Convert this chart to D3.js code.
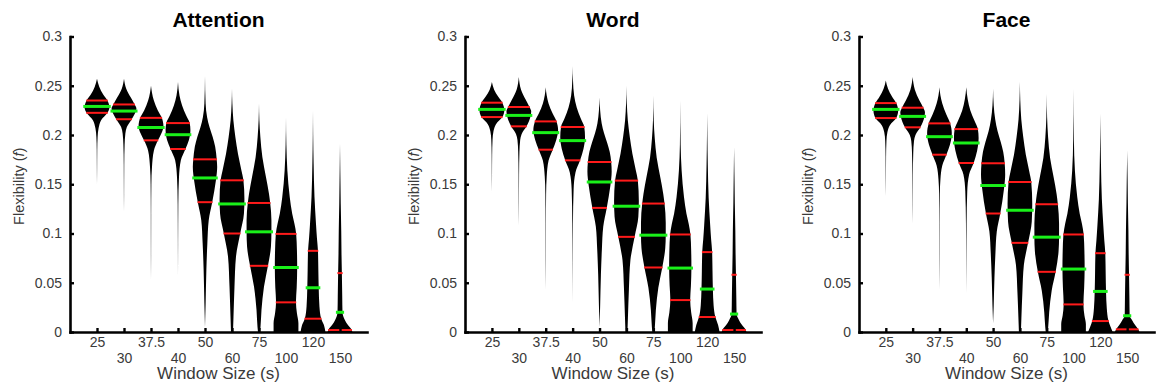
<!DOCTYPE html>
<html>
<head>
<meta charset="utf-8">
<script src="https://cdn.jsdelivr.net/npm/d3@7"></script>
<style>
  html, body { margin: 0; padding: 0; background: #fff; }
  svg { display: block; font-family: "Liberation Sans", Arial, Helvetica, sans-serif; }
</style>
</head>
<body>
<script>
// ---------------- DATA ----------------
const windowSizes = ["25", "30", "37.5", "40", "50", "60", "75", "100", "120", "150"];
const yTickValues = [0, 0.05, 0.1, 0.15, 0.2, 0.25, 0.3];
const panelTitles = ["Attention", "Word", "Face"];

// medians (green) and quartiles (red) of flexibility per window size
const attentionMedian = [0.229, 0.2243, 0.2076, 0.2003, 0.1564, 0.130, 0.1017, 0.0655, 0.0449, 0.020];
const attentionQ1     = [0.2225, 0.216, 0.1946, 0.1858, 0.1318, 0.100, 0.0672, 0.0301, 0.0135, 0.002];
const attentionQ3     = [0.235, 0.231, 0.2174, 0.2121, 0.1753, 0.154, 0.131, 0.0996, 0.0824, 0.0598];

const wordMedian = [0.226, 0.2199, 0.2024, 0.1943, 0.1523, 0.1277, 0.0983, 0.0649, 0.0436, 0.0182];
const wordQ1     = [0.2182, 0.2088, 0.1851, 0.1743, 0.126, 0.0966, 0.0655, 0.0324, 0.0152, 0.002];
const wordQ3     = [0.2328, 0.2284, 0.2138, 0.2081, 0.1726, 0.1537, 0.1304, 0.099, 0.0811, 0.0581];

const faceMedian = [0.226, 0.2189, 0.1983, 0.1919, 0.1487, 0.1236, 0.0963, 0.0639, 0.0412, 0.0165];
const faceQ1     = [0.2172, 0.2078, 0.180, 0.1716, 0.1203, 0.0905, 0.0611, 0.028, 0.0111, 0.0027];
const faceQ3     = [0.2324, 0.2277, 0.2118, 0.206, 0.1713, 0.1523, 0.1297, 0.099, 0.080, 0.0581];

// violin density profiles: [flexibility, relative density (max = 1)]
const attentionDensity = [
  [[.150,0],[.165,.01],[.185,.02],[.198,.05],[.207,.13],[.215,.33],[.2225,.84],[.228,1],[.235,.84],[.241,.5],[.249,.18],[.257,0]],
  [[.122,0],[.14,.01],[.17,.02],[.19,.05],[.2016,.11],[.208,.23],[.216,.62],[.2243,.96],[.227,1],[.231,.86],[.238,.55],[.247,.18],[.257,0]],
  [[.053,0],[.08,.01],[.12,.015],[.15,.03],[.1675,.08],[.184,.23],[.1946,.56],[.202,.85],[.209,1],[.2174,.87],[.225,.55],[.235,.23],[.243,.08],[.25,0]],
  [[.056,0],[.09,.01],[.13,.025],[.157,.08],[.1743,.23],[.1858,.6],[.195,.88],[.205,1],[.2121,.94],[.22,.65],[.23,.33],[.24,.12],[.2537,0]],
  [[.005,0],[.029,.05],[.063,.11],[.090,.19],[.1135,.3],[.1318,.58],[.154,.88],[.1675,.98],[.1753,.94],[.188,.82],[.198,.62],[.208,.36],[.218,.17],[.232,.05],[.26,0]],
  [[0,.08],[.0155,.12],[.046,.2],[.0763,.32],[.100,.66],[.120,.96],[.135,1],[.154,.92],[.164,.76],[.181,.48],[.198,.27],[.215,.11],[.232,.03],[.247,0]],
  [[0,.08],[.005,.12],[.0223,.2],[.046,.4],[.0672,.72],[.0865,.96],[.1017,1],[.1135,1],[.131,.9],[.1405,.8],[.1574,.56],[.1777,.27],[.198,.11],[.215,.03],[.232,0]],
  [[0,1],[.0088,1],[.019,.88],[.0301,.8],[.045,.86],[.0655,.9],[.083,.88],[.0996,.82],[.110,.68],[.120,.5],[.137,.3],[.164,.11],[.19,.03],[.218,0]],
  [[0,1],[.007,.88],[.0135,.66],[.0257,.52],[.0449,.46],[.063,.43],[.0824,.4],[.095,.32],[.110,.24],[.137,.12],[.171,.05],[.20,.015],[.225,0]],
  [[0,1],[.003,.9],[.007,.64],[.012,.4],[.02,.2],[.0358,.18],[.0598,.15],[.08,.12],[.103,.1],[.13,.06],[.154,.035],[.175,.015],[.191,0]]
];
const wordDensity = [
  [[.141,0],[.16,.01],[.18,.02],[.195,.05],[.204,.13],[.211,.33],[.2182,.84],[.225,1],[.2328,.84],[.239,.5],[.246,.18],[.2537,0]],
  [[.107,0],[.13,.01],[.16,.02],[.183,.05],[.195,.11],[.201,.23],[.2088,.62],[.2199,.96],[.224,1],[.2284,.86],[.236,.55],[.246,.18],[.2588,0]],
  [[.0426,0],[.07,.01],[.11,.015],[.14,.03],[.158,.08],[.174,.23],[.1851,.56],[.195,.85],[.205,1],[.2138,.87],[.222,.55],[.232,.23],[.240,.08],[.2486,0]],
  [[.029,0],[.07,.01],[.11,.025],[.145,.08],[.162,.23],[.1743,.6],[.186,.88],[.198,1],[.2081,.94],[.217,.65],[.228,.33],[.24,.12],[.255,.03],[.27,0]],
  [[.005,0],[.027,.05],[.058,.11],[.084,.19],[.107,.3],[.126,.58],[.149,.88],[.163,.98],[.1726,.94],[.183,.82],[.192,.62],[.202,.36],[.212,.17],[.225,.05],[.238,0]],
  [[0,.08],[.015,.12],[.044,.2],[.073,.32],[.0966,.66],[.117,.96],[.133,1],[.1537,.92],[.164,.76],[.181,.48],[.198,.27],[.215,.11],[.232,.03],[.25,0]],
  [[0,.08],[.005,.12],[.022,.2],[.045,.4],[.0655,.72],[.085,.96],[.0983,1],[.111,1],[.1304,.9],[.14,.8],[.157,.56],[.177,.27],[.197,.11],[.215,.03],[.24,0]],
  [[0,1],[.009,1],[.02,.88],[.0324,.8],[.047,.86],[.0649,.9],[.083,.88],[.099,.82],[.110,.68],[.120,.5],[.137,.3],[.164,.11],[.19,.03],[.235,0]],
  [[0,1],[.007,.88],[.0152,.66],[.027,.52],[.0436,.46],[.062,.43],[.0811,.4],[.094,.32],[.109,.24],[.136,.12],[.17,.05],[.2,.015],[.222,0]],
  [[0,1],[.003,.9],[.007,.64],[.012,.4],[.0182,.2],[.035,.18],[.0581,.15],[.08,.12],[.103,.1],[.13,.06],[.154,.035],[.172,.015],[.1875,0]]
];
const faceDensity = [
  [[.137,0],[.155,.01],[.178,.02],[.194,.05],[.203,.13],[.21,.33],[.2172,.84],[.225,1],[.2324,.84],[.239,.5],[.247,.18],[.2554,0]],
  [[.110,0],[.13,.01],[.16,.02],[.182,.05],[.194,.11],[.2,.23],[.2078,.62],[.2189,.96],[.223,1],[.2277,.86],[.235,.55],[.246,.18],[.2588,0]],
  [[.0426,0],[.07,.01],[.11,.015],[.14,.03],[.155,.08],[.169,.23],[.180,.56],[.19,.85],[.202,1],[.2118,.87],[.221,.55],[.232,.23],[.240,.08],[.2486,0]],
  [[.039,0],[.07,.01],[.11,.025],[.143,.08],[.16,.23],[.1716,.6],[.184,.88],[.197,1],[.206,.94],[.215,.65],[.225,.33],[.236,.12],[.2486,0]],
  [[.009,0],[.027,.05],[.055,.11],[.08,.19],[.102,.3],[.1203,.58],[.145,.88],[.16,.98],[.1713,.94],[.183,.82],[.193,.62],[.204,.36],[.216,.17],[.23,.05],[.247,0]],
  [[0,.08],[.014,.12],[.04,.2],[.068,.32],[.0905,.66],[.112,.96],[.13,1],[.1523,.92],[.163,.76],[.18,.48],[.198,.27],[.216,.11],[.235,.03],[.254,0]],
  [[0,.08],[.005,.12],[.02,.2],[.042,.4],[.0611,.72],[.082,.96],[.0963,1],[.11,1],[.1297,.9],[.14,.8],[.157,.56],[.177,.27],[.198,.11],[.218,.03],[.242,0]],
  [[0,1],[.008,1],[.017,.88],[.028,.8],[.045,.86],[.0639,.9],[.082,.88],[.099,.82],[.110,.68],[.12,.5],[.137,.3],[.164,.11],[.195,.03],[.247,0]],
  [[0,1],[.006,.8],[.0111,.66],[.024,.52],[.0412,.46],[.06,.43],[.080,.4],[.093,.32],[.108,.24],[.135,.12],[.17,.05],[.2,.015],[.2216,0]],
  [[0,1],[.003,.88],[.007,.64],[.012,.4],[.0165,.2],[.035,.18],[.0581,.15],[.08,.12],[.103,.1],[.13,.06],[.154,.035],[.17,.015],[.1845,0]]
];

// ---------------- LAYOUT ----------------
const W = 1159, H = 389;
const plotTop = 36.5, plotBottom = 332;
const panelLayout = [
  { left: 70,  right: 367 },
  { left: 465, right: 761 },
  { left: 859, right: 1154 }
];
const panelData = [
  { title: panelTitles[0], med: attentionMedian, q1: attentionQ1, q3: attentionQ3, dens: attentionDensity },
  { title: panelTitles[1], med: wordMedian,      q1: wordQ1,      q3: wordQ3,      dens: wordDensity },
  { title: panelTitles[2], med: faceMedian,      q1: faceQ1,      q3: faceQ3,      dens: faceDensity }
];

const textColor = "#3a3a3a";
const svg = d3.select("body").append("svg").attr("width", W).attr("height", H);

panelData.forEach((p, pi) => {
  const L = panelLayout[pi];
  const x = d3.scaleLinear().domain([0, windowSizes.length + 1]).range([L.left, L.right]);
  const y = d3.scaleLinear().domain([0, 0.3]).range([plotBottom, plotTop]);
  const g = svg.append("g");
  const maxHW = 0.46 * (x(1) - x(0));

  // violins
  p.dens.forEach((knots, i) => {
    const cx = x(i + 1);
    const area = d3.area()
      .y(d => y(d[0]))
      .x0(d => cx - d[1] * maxHW)
      .x1(d => cx + d[1] * maxHW)
      .curve(d3.curveMonotoneY);
    g.append("path").attr("d", area(knots)).attr("fill", "#000");
  });

  // quartile and median lines
  p.dens.forEach((knots, i) => {
    const cx = x(i + 1);
    const interp = d3.scaleLinear()
      .domain(knots.map(k => k[0]))
      .range(knots.map(k => k[1]))
      .clamp(true);
    [p.q1[i], p.q3[i]].forEach(v => {
      const hw = Math.max(interp(v) * maxHW + 0.3, 2.6);
      g.append("line")
        .attr("x1", cx - hw).attr("x2", cx + hw)
        .attr("y1", y(v)).attr("y2", y(v))
        .attr("stroke", "#ff1a1a").attr("stroke-width", 2);
    });
    const m = p.med[i];
    const hwm = Math.max(interp(m) * maxHW + 1.6, 3.6);
    g.append("line")
      .attr("x1", cx - hwm).attr("x2", cx + hwm)
      .attr("y1", y(m)).attr("y2", y(m))
      .attr("stroke", "#19f019").attr("stroke-width", 3);
  });

  // y axis
  const yAxis = d3.axisLeft(y)
    .tickValues(yTickValues)
    .tickSize(-4)
    .tickSizeOuter(0)
    .tickPadding(8)
    .tickFormat(d => String(+d.toFixed(2)));
  const ga = g.append("g").attr("transform", `translate(${L.left},0)`).call(yAxis);
  ga.select(".domain").attr("stroke", "#000").attr("stroke-width", 2.6).attr("stroke-linecap", "square");
  ga.selectAll(".tick line").attr("stroke", "#000").attr("stroke-width", 2.4);
  ga.selectAll(".tick text").attr("fill", textColor).style("font-size", "14px")
    .style("font-family", '"Liberation Sans", Arial, sans-serif');

  // x axis
  const xAxis = d3.axisBottom(x)
    .tickValues(windowSizes.map((s, i) => i + 1))
    .tickSize(-4)
    .tickSizeOuter(0)
    .tickFormat((d, i) => windowSizes[i]);
  const gx = g.append("g").attr("transform", `translate(0,${plotBottom})`).call(xAxis);
  gx.select(".domain").attr("stroke", "#000").attr("stroke-width", 2.6).attr("stroke-linecap", "square");
  gx.selectAll(".tick line").attr("stroke", "#000").attr("stroke-width", 2.4);
  gx.selectAll(".tick text")
    .attr("y", (d, i) => (i % 2 === 0 ? 5.5 : 21))
    .attr("fill", textColor).style("font-size", "14px")
    .style("font-family", '"Liberation Sans", Arial, sans-serif');

  const cxMid = (L.left + L.right) / 2;
  // title
  g.append("text")
    .attr("x", cxMid).attr("y", 26.5)
    .attr("text-anchor", "middle")
    .attr("font-weight", "bold").attr("font-size", 21)
    .attr("fill", "#000")
    .text(p.title);

  // x label
  g.append("text")
    .attr("x", cxMid).attr("y", 378.5)
    .attr("text-anchor", "middle")
    .attr("font-size", 17)
    .attr("fill", textColor)
    .text("Window Size (s)");

  // y label
  const yl = g.append("text")
    .attr("transform", `translate(${L.left - 51},${(plotTop + plotBottom) / 2 + 2}) rotate(-90)`)
    .attr("text-anchor", "middle")
    .attr("dy", "0.35em")
    .attr("font-size", 14.5)
    .attr("fill", textColor);
  yl.append("tspan").text("Flexibility (");
  yl.append("tspan").attr("font-style", "italic").text("f");
  yl.append("tspan").text(")");
});
</script>
</body>
</html>
